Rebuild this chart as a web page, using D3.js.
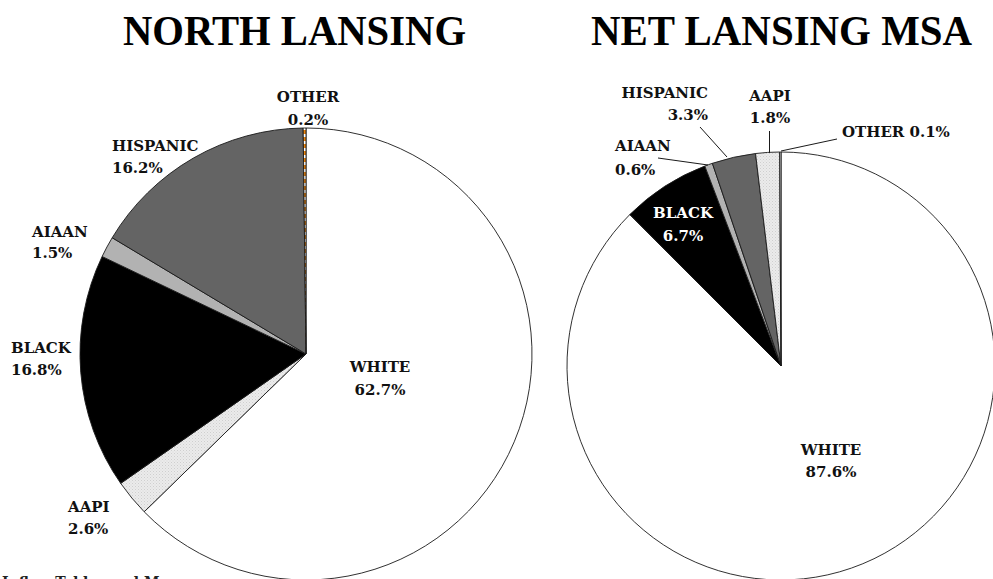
<!DOCTYPE html>
<html>
<head>
<meta charset="utf-8">
<script src="https://cdn.jsdelivr.net/npm/d3@7/dist/d3.min.js"></script>
<style>
  html, body { margin: 0; padding: 0; background: #fff; overflow: hidden; }
  svg { display: block; }
  .lbl { font-family: "DejaVu Serif", serif; font-weight: bold; font-size: 15px; }
  .title { font-family: "Liberation Serif", serif; font-weight: bold; font-size: 42px; }
</style>
</head>
<body>
<svg id="chart" width="993" height="579"></svg>
<script>
// Population shares by group, clockwise from 12 o'clock
const northCategories = ["WHITE", "AAPI", "BLACK", "AIAAN", "HISPANIC", "OTHER"];
const northValues     = [62.7, 2.6, 16.8, 1.5, 16.2, 0.2];

const msaCategories = ["WHITE", "BLACK", "AIAAN", "HISPANIC", "AAPI", "OTHER"];
const msaValues     = [87.6, 6.7, 0.6, 3.3, 1.8, 0.1];

const chartTitles = ["NORTH LANSING", "NET LANSING MSA"];

const svg = d3.select("#chart");

// Fill patterns
const defs = svg.append("defs");
const dots = defs.append("pattern")
  .attr("id", "dots").attr("patternUnits", "userSpaceOnUse")
  .attr("width", 3).attr("height", 3);
dots.append("rect").attr("width", 3).attr("height", 3).attr("fill", "#ebebeb");
dots.append("rect").attr("x", 0).attr("y", 0).attr("width", 1).attr("height", 1).attr("fill", "#cfcfcf");
dots.append("rect").attr("x", 1.5).attr("y", 1.5).attr("width", 1).attr("height", 1).attr("fill", "#d8d8d8");

const orange = defs.append("pattern")
  .attr("id", "orangeDash").attr("patternUnits", "userSpaceOnUse")
  .attr("width", 8).attr("height", 7);
orange.append("rect").attr("width", 8).attr("height", 7).attr("fill", "#ffffff");
orange.append("rect").attr("y", 0).attr("width", 8).attr("height", 4).attr("fill", "#e8820c");

const fills = {
  WHITE: "#ffffff",
  AAPI: "url(#dots)",
  BLACK: "#000000",
  AIAAN: "#b2b2b2",
  HISPANIC: "#646464",
  OTHER: "url(#orangeDash)"
};

function drawPie(cats, vals, cfg) {
  const data = cats.map((c, i) => ({ cat: c, v: vals[i] }));
  const pie = d3.pie().sort(null).value(d => d.v);
  const arc = d3.arc().innerRadius(0).outerRadius(cfg.r);
  const g = svg.append("g").attr("transform", `translate(${cfg.cx},${cfg.cy})`);

  g.selectAll("path.slice")
    .data(pie(data))
    .join("path")
    .attr("class", "slice")
    .attr("d", arc)
    .attr("fill", d => (cfg.fills && cfg.fills[d.data.cat]) || fills[d.data.cat])
    .attr("stroke", "#1a1a1a")
    .attr("stroke-width", 0.9)
    .attr("stroke-linejoin", "round");

  // Labels: category name and percentage
  const lg = svg.append("g");
  data.forEach(d => {
    const p = cfg.labels[d.cat];
    if (!p) return;
    const t = lg.append("text")
      .attr("class", "lbl")
      .attr("x", p.x).attr("y", p.y)
      .attr("text-anchor", p.anchor || "start")
      .attr("fill", p.color || "#111");
    if (p.inline) {
      t.text(`${d.cat} ${d.v}%`);
    } else {
      t.append("tspan").attr("x", p.x).text(d.cat);
      t.append("tspan").attr("x", p.x).attr("dy", p.gap || 22).text(`${d.v}%`);
    }
    if (p.leader) {
      lg.append("polyline")
        .attr("points", p.leader.map(q => q.join(",")).join(" "))
        .attr("fill", "none").attr("stroke", "#1a1a1a").attr("stroke-width", 1);
    }
  });
}

drawPie(northCategories, northValues, {
  cx: 306, cy: 354, r: 226,
  labels: {
    OTHER:    { x: 308, y: 102, anchor: "middle", gap: 23 },
    HISPANIC: { x: 112, y: 151 },
    AIAAN:    { x: 32,  y: 237, gap: 21 },
    BLACK:    { x: 11,  y: 353 },
    AAPI:     { x: 68,  y: 512 },
    WHITE:    { x: 380, y: 372, anchor: "middle", gap: 23 }
  }
});

drawPie(msaCategories, msaValues, {
  cx: 781, cy: 366, r: 214,
  fills: { OTHER: "#ffffff" },
  labels: {
    HISPANIC: { x: 708, y: 98, anchor: "end", leader: [[700, 127], [727, 157]] },
    AAPI:     { x: 770, y: 101, anchor: "middle", leader: [[769.5, 131], [769.5, 153]] },
    AIAAN:    { x: 615, y: 151, gap: 24, leader: [[658, 158], [708, 165]] },
    OTHER:    { x: 842, y: 137, inline: true, leader: [[837, 139], [781, 151]] },
    BLACK:    { x: 683, y: 218, anchor: "middle", color: "#ffffff", gap: 23 },
    WHITE:    { x: 831, y: 455, anchor: "middle", gap: 22 }
  }
});

// Chart titles
const titleLayout = [
  { x: 123, w: 343 },
  { x: 591, w: 381 }
];
chartTitles.forEach((t, i) => {
  svg.append("text")
    .attr("class", "title")
    .attr("x", titleLayout[i].x).attr("y", 45)
    .attr("textLength", titleLayout[i].w)
    .attr("lengthAdjust", "spacingAndGlyphs")
    .attr("fill", "#000")
    .text(t);
});

// Source note along the bottom edge
svg.append("text")
  .attr("x", 2).attr("y", 587)
  .attr("font-family", "DejaVu Serif, serif").attr("font-weight", "bold")
  .attr("font-size", 14).attr("fill", "#222")
  .text("Inflow Tables and Maps");
</script>
</body>
</html>
